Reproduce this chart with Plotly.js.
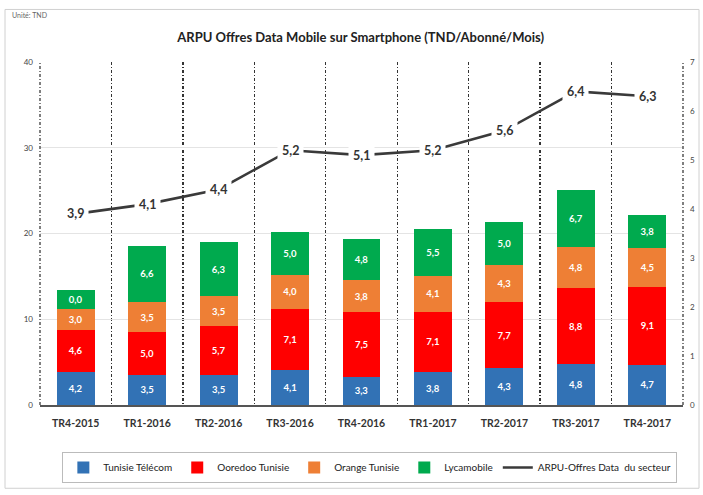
<!DOCTYPE html>
<html>
<head>
<meta charset="utf-8">
<script src="https://cdn.plot.ly/plotly-3.0.1.min.js"></script>
<style>html,body{margin:0;padding:0;background:#fff;}#chart{width:703px;height:495px;}</style>
</head>
<body>
<div id="chart"></div>
<script>
var categories = ["TR4-2015","TR1-2016","TR2-2016","TR3-2016","TR4-2016","TR1-2017","TR2-2017","TR3-2017","TR4-2017"];

// bar heights
var tunisieTelecom = [3.9, 3.5, 3.5, 4.1, 3.3, 3.8, 4.3, 4.8, 4.7];
var ooredoo        = [4.9, 5.0, 5.7, 7.1, 7.5, 7.1, 7.7, 8.8, 9.1];
var orange         = [2.4, 3.5, 3.5, 4.0, 3.8, 4.1, 4.3, 4.8, 4.5];
var lycamobile     = [2.2, 6.6, 6.3, 5.0, 4.8, 5.5, 5.0, 6.7, 3.8];

// labels as printed on the bars
var tunisieTelecomLabels = ["4,2","3,5","3,5","4,1","3,3","3,8","4,3","4,8","4,7"];
var ooredooLabels        = ["4,6","5,0","5,7","7,1","7,5","7,1","7,7","8,8","9,1"];
var orangeLabels         = ["3,0","3,5","3,5","4,0","3,8","4,1","4,3","4,8","4,5"];
var lycamobileLabels     = ["0,0","6,6","6,3","5,0","4,8","5,5","5,0","6,7","3,8"];

// ARPU sector line (right axis)
var arpuSecteur = [3.9, 4.1, 4.4, 5.2, 5.1, 5.2, 5.6, 6.4, 6.3];

var leftTicks = [0, 10, 20, 30, 40];
var rightTicks = [0, 1, 2, 3, 4, 5, 6, 7];

var FONT = "Lato, 'Liberation Sans', sans-serif";
var DASH = "3px,2px,1px,2px";

function barTrace(name, vals, labels, color) {
  return {
    type: "bar", name: name, x: categories, y: vals,
    text: labels, textposition: "inside", insidetextanchor: "middle",
    textangle: 0, constraintext: "none",
    textfont: {family: FONT, size: 9.5, color: "#ffffff", weight: "bold"},
    marker: {color: color, line: {width: 0}},
    hoverinfo: "x+text+name"
  };
}

var traces = [
  barTrace("Tunisie Télécom", tunisieTelecom, tunisieTelecomLabels, "#3272B5"),
  barTrace("Ooredoo Tunisie", ooredoo, ooredooLabels, "#FF0000"),
  barTrace("Orange Tunisie", orange, orangeLabels, "#EE7F35"),
  barTrace("Lycamobile", lycamobile, lycamobileLabels, "#00AA4E"),
  {
    type: "scatter", mode: "lines", name: "ARPU-Offres Data  du secteur",
    x: categories, y: arpuSecteur, yaxis: "y2",
    line: {color: "#3a3a3a", width: 2.6}
  }
];

var annotations = arpuSecteur.map(function (v, i) {
  return {
    x: categories[i], y: v, xref: "x", yref: "y2",
    text: v.toFixed(1).replace(".", ","), showarrow: false,
    bgcolor: "#ffffff", borderpad: 4,
    font: {family: FONT, size: 12.5, color: "#333333", weight: "bold"}
  };
});
annotations.push({
  xref: "paper", yref: "paper", x: (10 - 40) / 643, y: (408 - 15) / 346,
  xanchor: "left", yanchor: "middle", showarrow: false,
  text: "Unité: TND", font: {family: FONT, size: 7, color: "#666666"}
});

var layout = {
  width: 703, height: 495,
  margin: {l: 40, r: 20, t: 62, b: 87, pad: 0},
  paper_bgcolor: "#ffffff", plot_bgcolor: "#ffffff",
  font: {family: FONT, color: "#333333"},
  title: {
    text: "ARPU Offres Data Mobile sur Smartphone (TND/Abonné/Mois)",
    x: 0.513, xanchor: "center", y: 1 - 37 / 495, yanchor: "middle",
    font: {family: FONT, size: 13, color: "#222222", weight: "bold"}
  },
  barmode: "stack", bargap: 0.47,
  showlegend: true,
  legend: {
    orientation: "h", x: 0.513, xanchor: "center", y: (408 - 471) / 346, yanchor: "middle",
    bordercolor: "#bbbbbb", borderwidth: 1, bgcolor: "#ffffff",
    font: {family: FONT, size: 10, color: "#222222"},
    traceorder: "normal", itemwidth: 30
  },
  xaxis: {
    type: "category", range: [-0.5, 8.5], tickson: "boundaries",
    showgrid: true, gridcolor: "#333333", gridwidth: 1.3, griddash: DASH,
    showline: true, linecolor: "#555555", linewidth: 1.5,
    ticks: "", tickfont: {family: FONT, size: 10.5, color: "#333333", weight: "bold"},
    ticklabelstandoff: 8, fixedrange: true
  },
  yaxis: {
    range: [0, 40], tickvals: leftTicks, ticktext: leftTicks.map(String),
    showgrid: true, gridcolor: "#e4e4e4", gridwidth: 1, zeroline: false,
    showline: false, ticks: "",
    tickfont: {family: FONT, size: 8, color: "#444444"}, ticklabelstandoff: 6
  },
  yaxis2: {
    overlaying: "y", side: "right", range: [0, 7],
    tickvals: rightTicks, ticktext: rightTicks.map(String),
    showgrid: false, zeroline: false, showline: false, ticks: "",
    tickfont: {family: FONT, size: 8, color: "#444444"}, ticklabelstandoff: 6
  },
  annotations: annotations,
  shapes: [
    {
      type: "rect", xref: "paper", yref: "paper", layer: "below",
      x0: (5 - 40) / 643, x1: (699 - 40) / 643,
      y0: (408 - 492) / 346, y1: (408 - 9) / 346,
      line: {color: "#d0d0d0", width: 1}
    },
    {type: "line", xref: "paper", yref: "paper", x0: 0, x1: 0, y0: 0, y1: 1,
     line: {color: "#555555", width: 1.5, dash: DASH}},
    {type: "line", xref: "paper", yref: "paper", x0: 1, x1: 1, y0: 0, y1: 1,
     line: {color: "#555555", width: 1.5, dash: DASH}}
  ]
};

Plotly.newPlot("chart", traces, layout, {displayModeBar: false, staticPlot: true});
</script>
</body>
</html>
